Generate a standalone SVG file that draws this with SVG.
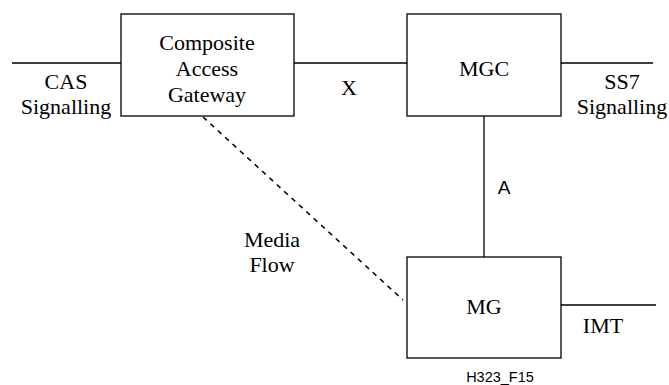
<svg xmlns="http://www.w3.org/2000/svg" width="669" height="385" viewBox="0 0 669 385">
<rect width="669" height="385" fill="#ffffff"/>
<g id="connectors" stroke="#000000" stroke-width="1.3" fill="none">
<line x1="12" y1="63" x2="121" y2="63"/>
<line x1="294" y1="63" x2="407" y2="63"/>
<line x1="561" y1="63" x2="653" y2="63"/>
<line x1="484" y1="116" x2="484" y2="257"/>
<line x1="561" y1="305" x2="656" y2="305"/>
<line x1="203" y1="117" x2="403" y2="300" stroke-width="1.5" stroke-dasharray="5 5"/>
</g>
<g id="labels">
<text x="66" y="89" font-family="Liberation Serif" font-size="22" text-anchor="middle">CAS</text>
<text x="66" y="114" font-family="Liberation Serif" font-size="22" text-anchor="middle">Signalling</text>
<text x="349" y="95" font-family="Liberation Serif" font-size="22" text-anchor="middle">X</text>
<text x="622" y="89" font-family="Liberation Serif" font-size="22" text-anchor="middle">SS7</text>
<text x="622" y="114" font-family="Liberation Serif" font-size="22" text-anchor="middle">Signalling</text>
<text x="504" y="194" font-family="Liberation Sans" font-size="19" text-anchor="middle">A</text>
<text x="272" y="247" font-family="Liberation Serif" font-size="22" text-anchor="middle">Media</text>
<text x="272" y="272" font-family="Liberation Serif" font-size="22" text-anchor="middle">Flow</text>
<text x="603" y="333" font-family="Liberation Serif" font-size="22" text-anchor="middle">IMT</text>
</g>
<g id="cag">
<rect x="121" y="14" width="173" height="102" fill="#ffffff" stroke="#000000" stroke-width="1.3"/>
<text x="207" y="50" font-family="Liberation Serif" font-size="22" text-anchor="middle">Composite</text>
<text x="207" y="76" font-family="Liberation Serif" font-size="22" text-anchor="middle">Access</text>
<text x="207" y="102" font-family="Liberation Serif" font-size="22" text-anchor="middle">Gateway</text>
</g>
<g id="mgc">
<rect x="407" y="14" width="154" height="102" fill="#ffffff" stroke="#000000" stroke-width="1.3"/>
<text x="484" y="76" font-family="Liberation Serif" font-size="22" text-anchor="middle">MGC</text>
</g>
<g id="mg">
<rect x="407" y="257" width="154" height="101" fill="#ffffff" stroke="#000000" stroke-width="1.3"/>
<text x="484" y="314" font-family="Liberation Serif" font-size="22" text-anchor="middle">MG</text>
</g>
<text x="500" y="382" font-family="Liberation Sans" font-size="14.5" text-anchor="middle">H323_F15</text>
</svg>
